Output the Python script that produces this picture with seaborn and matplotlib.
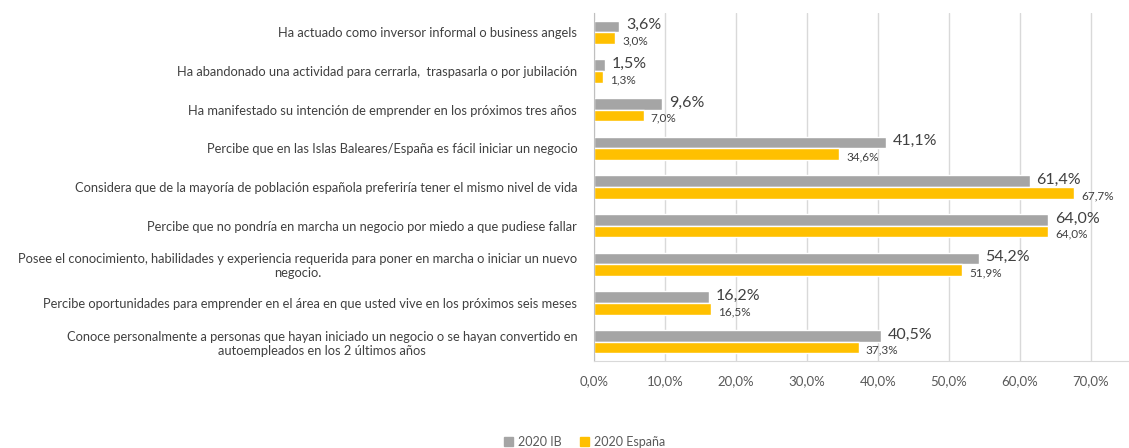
import numpy as np
import pandas as pd
import seaborn as sns
import matplotlib.pyplot as plt
from matplotlib.ticker import FuncFormatter

sns.set_style("white")
plt.rcParams['font.family'] = ['Lato', 'DejaVu Sans']

# Data (percentages)
categories = [
    "Ha actuado como inversor informal o business angels",
    "Ha abandonado una actividad para cerrarla,  traspasarla o por jubilación",
    "Ha manifestado su intención de emprender en los próximos tres años",
    "Percibe que en las Islas Baleares/España es fácil iniciar un negocio",
    "Considera que de la mayoría de población española preferiría tener el mismo nivel de vida",
    "Percibe que no pondría en marcha un negocio por miedo a que pudiese fallar",
    "Posee el conocimiento, habilidades y experiencia requerida para poner en marcha o iniciar un nuevo\nnegocio.",
    "Percibe oportunidades para emprender en el área en que usted vive en los próximos seis meses",
    "Conoce personalmente a personas que hayan iniciado un negocio o se hayan convertido en\nautoempleados en los 2 últimos años",
]
ib_values = [3.6, 1.5, 9.6, 41.1, 61.4, 64.0, 54.2, 16.2, 40.5]
spain_values = [3.0, 1.3, 7.0, 34.6, 67.7, 64.0, 51.9, 16.5, 37.3]
series_names = ["2020 IB", "2020 España"]
colors = ["#A5A5A5", "#FFC000"]

df = pd.DataFrame({
    "Categoria": categories * 2,
    "Valor": ib_values + spain_values,
    "Serie": [series_names[0]] * len(categories) + [series_names[1]] * len(categories),
})

fig = plt.figure(figsize=(11.29, 4.48), dpi=100)
ax = fig.add_axes([0.526, 0.194, 0.474, 0.777])

sns.barplot(data=df, y="Categoria", x="Valor", hue="Serie", order=categories,
            hue_order=series_names, palette=colors, width=0.6, orient="h",
            saturation=1, errorbar=None, ax=ax)

# Value labels: IB larger, España smaller and a bit lower
for container, size, dy in zip(ax.containers, [11.5, 8.5], [1, -2]):
    for bar, v in zip(container, container.datavalues):
        ax.annotate(f"{v:.1f}%".replace(".", ","),
                    (bar.get_x() + bar.get_width(), bar.get_y() + bar.get_height() / 2),
                    xytext=(5, dy), textcoords="offset points", ha="left", va="center",
                    fontsize=size, color="#404040")

ax.set_xlim(0, 75.4)
ax.set_xticks(np.arange(0, 71, 10))
ax.xaxis.set_major_formatter(FuncFormatter(lambda x, _: f"{x:.1f}%".replace(".", ",")))
ax.grid(axis="x", color="#D9D9D9", linewidth=1)
ax.set_axisbelow(True)
ax.set_xlabel("")
ax.set_ylabel("")
ax.tick_params(axis="x", labelsize=9.5, colors="#595959", length=0, pad=10)
ax.tick_params(axis="y", labelsize=9.3, colors="#404040", length=0, pad=12)
for lbl in ax.get_yticklabels():
    lbl.set_multialignment("center")

for side in ["top", "right"]:
    ax.spines[side].set_visible(False)
ax.spines["left"].set_color("#BFBFBF")
ax.spines["bottom"].set_color("#D9D9D9")

ax.get_legend().remove()
handles = [plt.Rectangle((0, 0), 1, 1, color=c) for c in colors]
fig.legend(handles, series_names, loc="lower center", bbox_to_anchor=(0.518, -0.025),
           ncol=2, frameon=False, fontsize=9, handlelength=0.7, handleheight=0.7,
           handletextpad=0.4, columnspacing=1.5, labelcolor="#595959")

plt.savefig("out.png", dpi=100)
plt.close()
